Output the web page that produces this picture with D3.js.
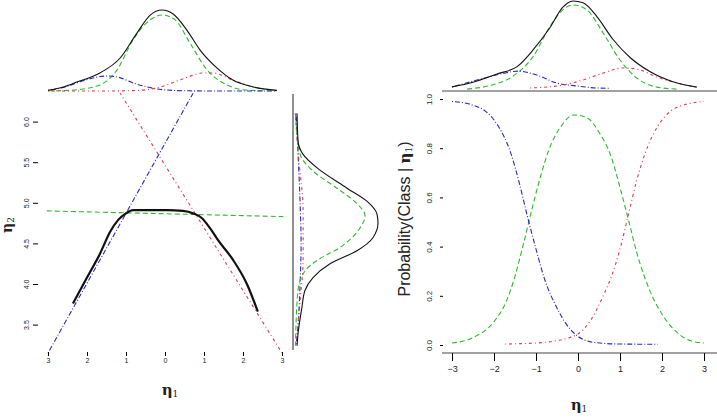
<!DOCTYPE html>
<html>
<head>
<meta charset="utf-8">
<script src="https://cdn.jsdelivr.net/npm/d3@7"></script>
<style>
  body { margin: 0; background: #fff; }
  text { font-family: "Liberation Sans", Arial, sans-serif; fill: #222; }
</style>
</head>
<body>
<svg id="chart" width="717" height="420"></svg>
<script>
// ---- data ----
const etaTicks = [-3, -2, -1, 0, 1, 2, 3];
const eta2Ticks = [3.5, 4, 4.5, 5, 5.5, 6];
const probTicks = [0, 0.2, 0.4, 0.6, 0.8, 1];

// left panel, top marginal density of eta1: [eta1, density]
const leftTopBlack = [[-3,0.004],[-2.6,0.02],[-2.26,0.044],[-1.67,0.089],[-1.15,0.163],[-0.72,0.286],[-0.38,0.375],[-0.08,0.40],[0.21,0.38],[0.56,0.301],[0.9,0.202],[1.33,0.114],[1.74,0.054],[2.26,0.02],[2.87,0.003]];
const leftTopGreen = [[-3,0.001],[-2.6,0.002],[-2.26,0.006],[-1.67,0.03],[-1.23,0.104],[-0.82,0.252],[-0.38,0.351],[-0.08,0.375],[0.26,0.351],[0.64,0.237],[1.08,0.104],[1.59,0.03],[2.0,0.006],[2.4,0.002],[2.87,0.001]];
const leftTopBlue = [[-3,0.003],[-2.6,0.018],[-2.26,0.04],[-1.9,0.062],[-1.5,0.074],[-1.2,0.068],[-0.82,0.04],[-0.5,0.022],[-0.21,0.01],[0.2,0.003],[0.6,0.001],[1.5,0],[2.87,0]];
const leftTopRed = [[-3,0],[-1.5,0],[-0.82,0.002],[-0.21,0.015],[0.38,0.054],[0.97,0.089],[1.23,0.089],[1.74,0.054],[2.26,0.02],[2.87,0.003]];

// left panel, main: class regression lines and the mixture curve: [eta1, eta2]
const blueLine = [[-3,3.15],[0.72,6.35]];
const redLine = [[3,3.15],[-1.15,6.35]];
const greenLine = [[-3.03,4.9],[3.03,4.83]];
const blackCurve = [[-2.36,3.76],[-2.0,4.08],[-1.67,4.37],[-1.41,4.64],[-1.2,4.79],[-1.0,4.87],[-0.82,4.91],[-0.38,4.91],[0.05,4.91],[0.46,4.9],[0.72,4.87],[0.95,4.81],[1.15,4.69],[1.36,4.54],[1.74,4.3],[2.1,4.0],[2.38,3.66]];

// left panel, right marginal density of eta2: [eta2, density]
const sideBlack = [[6.1,0.02],[5.76,0.025],[5.6,0.049],[5.43,0.119],[5.18,0.267],[5.02,0.365],[4.86,0.415],[4.75,0.42],[4.57,0.395],[4.41,0.316],[4.25,0.183],[4.08,0.099],[3.92,0.059],[3.71,0.044],[3.39,0.025],[3.24,0.02]];
const sideGreen = [[6.1,0.012],[5.6,0.035],[5.39,0.099],[5.18,0.217],[4.99,0.316],[4.84,0.356],[4.69,0.331],[4.45,0.232],[4.29,0.119],[4.16,0.059],[3.92,0.025],[3.51,0.015],[3.24,0.012]];
const sideBlue = [[6.1,0.015],[5.6,0.025],[5.0,0.035],[4.5,0.04],[4.0,0.035],[3.5,0.025],[3.24,0.015]];
const sideRed = [[6.1,0.01],[5.5,0.03],[4.9,0.05],[4.3,0.05],[3.8,0.035],[3.3,0.018]];

// right panel, top marginal density of eta1: [eta1, density]
const rtBlack = [[-3,0.014],[-2.5,0.035],[-1.93,0.072],[-1.45,0.105],[-1.07,0.18],[-0.67,0.28],[-0.36,0.372],[-0.12,0.4],[0.12,0.392],[0.45,0.33],[0.83,0.228],[1.24,0.146],[1.71,0.083],[2.26,0.037],[2.83,0.013]];
const rtGreen = [[-2.64,0.004],[-2.1,0.02],[-1.55,0.062],[-1.07,0.15],[-0.67,0.285],[-0.36,0.36],[-0.12,0.382],[0.21,0.36],[0.6,0.256],[1,0.135],[1.4,0.054],[1.88,0.013],[2.36,0.004]];
const rtBlue = [[-3,0.013],[-2.26,0.052],[-1.79,0.074],[-1.43,0.085],[-0.98,0.067],[-0.5,0.031],[-0.02,0.018],[0.45,0.009],[0.76,0.008]];
const rtRed = [[-1.14,0.009],[-0.36,0.022],[0.12,0.045],[0.6,0.076],[1.07,0.099],[1.4,0.094],[1.88,0.058],[2.36,0.031],[2.83,0.013]];

// right panel, posterior class probabilities: [eta1, p]
const probBlue = [[-3,0.99],[-2.5,0.975],[-2.2,0.95],[-1.9,0.89],[-1.6,0.78],[-1.4,0.66],[-1.2,0.52],[-1,0.39],[-0.8,0.27],[-0.5,0.15],[-0.3,0.09],[0,0.035],[0.4,0.01],[1,0.004],[1.9,0.003]];
const probGreen = [[-3,0.008],[-2.5,0.03],[-2,0.095],[-1.7,0.18],[-1.5,0.28],[-1.3,0.41],[-1.1,0.55],[-0.9,0.68],[-0.7,0.79],[-0.4,0.89],[-0.1,0.935],[0.2,0.925],[0.5,0.865],[0.8,0.76],[1,0.64],[1.2,0.51],[1.4,0.375],[1.7,0.225],[2,0.125],[2.4,0.045],[2.7,0.016],[3,0.008]];
const probRed = [[-1.74,0.004],[-1,0.008],[-0.5,0.018],[-0.2,0.03],[0,0.045],[0.3,0.1],[0.6,0.2],[0.8,0.28],[1,0.39],[1.2,0.53],[1.4,0.67],[1.6,0.78],[1.9,0.89],[2.2,0.95],[2.5,0.975],[3,0.99]];

// ---- styles ----
const styles = {
  black: { stroke: "#111", dash: null },
  green: { stroke: "#2dbb2d", dash: "5,3" },
  blue:  { stroke: "#2a2abf", dash: "1,2,5,2" },
  red:   { stroke: "#e23a4e", dash: "1,3,3,3" }
};

const svg = d3.select("#chart");
svg.append("rect").attr("width", 717).attr("height", 420).attr("fill", "#fff");

// ---- scales ----
const xL = d3.scaleLinear().domain([-3, 3]).range([48, 282]);
const yLtop = d3.scaleLinear().domain([0, 0.4]).range([91, 10]);
const yL = d3.scaleLinear().domain([3.5, 6]).range([324.6, 121.6]);
const dSide = d3.scaleLinear().domain([0, 0.42]).range([293, 378]);
const xR = d3.scaleLinear().domain([-3, 3]).range([452, 704]);
const yR = d3.scaleLinear().domain([0, 1]).range([345, 99]);
const yRtop = d3.scaleLinear().domain([0, 0.4]).range([90, 1]);

function drawPath(data, line, key, width) {
  svg.append("path")
    .datum(data)
    .attr("fill", "none")
    .attr("stroke", styles[key].stroke)
    .attr("stroke-width", width || 1.1)
    .attr("stroke-dasharray", styles[key].dash)
    .attr("d", line);
}

// ---- left panel: top marginal ----
const lineLtop = d3.line().x(d => xL(d[0])).y(d => yLtop(d[1])).curve(d3.curveMonotoneX);
drawPath(leftTopGreen, lineLtop, "green");
drawPath(leftTopBlue, lineLtop, "blue");
drawPath(leftTopRed, lineLtop, "red");
drawPath(leftTopBlack, lineLtop, "black");

// ---- left panel: main ----
const lineL = d3.line().x(d => xL(d[0])).y(d => yL(d[1]));
drawPath(blueLine, lineL, "blue");
drawPath(redLine, lineL, "red");
drawPath(greenLine, lineL, "green");
drawPath(blackCurve, lineL.curve(d3.curveMonotoneX), "black", 2.2);

// left x axis
const axL = svg.append("g")
  .attr("transform", "translate(0,352)")
  .call(d3.axisBottom(xL).tickValues(etaTicks).tickSize(4).tickPadding(2).tickFormat(d => Math.abs(d)));
axL.select(".domain").remove();
axL.selectAll("text").style("font-size", "7px").attr("fill", "#222");

// left y axis, labels turned
const ayL = svg.append("g")
  .attr("transform", "translate(38,0)")
  .call(d3.axisLeft(yL).tickValues(eta2Ticks).tickSize(5).tickFormat(d3.format(".1f")));
ayL.select(".domain").remove();
ayL.selectAll("text")
  .attr("x", 0).attr("dy", 0)
  .attr("text-anchor", "middle")
  .attr("transform", "translate(-9,0) rotate(-90)")
  .style("font-size", "7px");

// left axis titles
const etaL = svg.append("text").attr("x", 170).attr("y", 395).attr("text-anchor", "middle");
etaL.append("tspan").text("η").style("font-family", "DejaVu Serif, serif").style("font-weight", "bold").style("font-size", "15px");
etaL.append("tspan").text("1").attr("dy", 2).style("font-family", "DejaVu Serif, serif").style("font-size", "9px");

const eta2 = svg.append("text").attr("transform", "translate(12,225) rotate(-90)").attr("text-anchor", "middle");
eta2.append("tspan").text("η").style("font-family", "DejaVu Serif, serif").style("font-weight", "bold").style("font-size", "14px");
eta2.append("tspan").text("2").attr("dy", 2).style("font-family", "DejaVu Serif, serif").style("font-size", "9px");

// ---- left panel: side marginal ----
svg.append("line").attr("x1", 293).attr("x2", 293).attr("y1", 94).attr("y2", 350).attr("stroke", "#222");
const lineSide = d3.line().x(d => dSide(d[1])).y(d => yL(d[0])).curve(d3.curveMonotoneY);
drawPath(sideBlue, lineSide, "blue");
drawPath(sideRed, lineSide, "red");
drawPath(sideGreen, lineSide, "green");
drawPath(sideBlack, lineSide, "black");

// ---- right panel: top marginal ----
svg.append("line").attr("x1", 442).attr("x2", 717).attr("y1", 91).attr("y2", 91).attr("stroke", "#444");
const lineRtop = d3.line().x(d => xR(d[0])).y(d => yRtop(d[1])).curve(d3.curveMonotoneX);
drawPath(rtGreen, lineRtop, "green");
drawPath(rtBlue, lineRtop, "blue");
drawPath(rtRed, lineRtop, "red");
drawPath(rtBlack, lineRtop, "black");

// ---- right panel: posterior probabilities ----
const lineR = d3.line().x(d => xR(d[0])).y(d => yR(d[1])).curve(d3.curveMonotoneX);
drawPath(probGreen, lineR, "green");
drawPath(probBlue, lineR, "blue");
drawPath(probRed, lineR, "red");

// right x axis
svg.append("line").attr("x1", 442).attr("x2", 717).attr("y1", 353).attr("y2", 353).attr("stroke", "#444");
const axR = svg.append("g")
  .attr("transform", "translate(0,353)")
  .call(d3.axisBottom(xR).tickValues(etaTicks).tickSize(8).tickPadding(5).tickFormat(d3.format("d")));
axR.select(".domain").remove();
axR.selectAll("text").style("font-size", "9px");

// right y axis
const ayR = svg.append("g")
  .attr("transform", "translate(443,0)")
  .call(d3.axisLeft(yR).tickValues(probTicks).tickSize(3).tickFormat(d3.format(".1f")));
ayR.select(".domain").remove();
ayR.selectAll("text")
  .attr("x", 0).attr("dy", 0)
  .attr("text-anchor", "middle")
  .attr("transform", "translate(-11,0) rotate(-90)")
  .style("font-size", "8px");

// right axis titles
const etaR = svg.append("text").attr("x", 579).attr("y", 410).attr("text-anchor", "middle");
etaR.append("tspan").text("η").style("font-family", "DejaVu Serif, serif").style("font-weight", "bold").style("font-size", "15px");
etaR.append("tspan").text("1").attr("dy", 2).style("font-family", "DejaVu Serif, serif").style("font-size", "9px");

const ylab = svg.append("text").attr("transform", "translate(410,219) rotate(-90)").attr("text-anchor", "middle").style("font-size", "16px");
ylab.append("tspan").text("Probability(Class | ");
ylab.append("tspan").text("η").style("font-family", "DejaVu Serif, serif").style("font-weight", "bold").style("font-size", "15px");
ylab.append("tspan").text("1").attr("dy", 2).style("font-family", "DejaVu Serif, serif").style("font-size", "9px");
ylab.append("tspan").text(")").attr("dy", -2);
</script>
</body>
</html>
